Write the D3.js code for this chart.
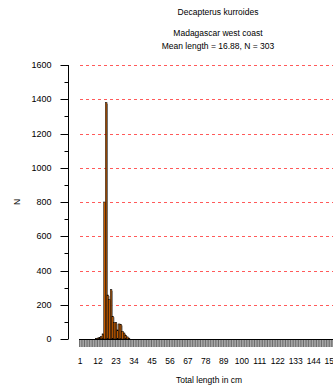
<!DOCTYPE html>
<html>
<head>
<meta charset="utf-8">
<script src="https://cdn.jsdelivr.net/npm/d3@7/dist/d3.min.js"></script>
<style>
  html, body { margin: 0; padding: 0; background: #fff; }
  svg { display: block; font-family: "Liberation Sans", Arial, sans-serif; }
</style>
</head>
<body>
<svg id="chart" width="333" height="390"></svg>
<script>
// Length-frequency data: total length (cm) and count N
const lengths = [11, 12, 13, 14, 15, 16, 17, 18, 19, 20, 21, 22, 23, 24, 25, 26, 27, 28, 29, 30, 31];
const counts  = [3, 6, 10, 14, 30, 800, 1380, 257, 230, 288, 133, 95, 95, 53, 88, 85, 45, 35, 22, 12, 5];
const yTicks = [0, 200, 400, 600, 800, 1000, 1200, 1400, 1600];
const xTickLabels = [1, 12, 23, 34, 45, 56, 67, 78, 89, 100, 111, 122, 133, 144, 155];
const titleLines = ["Decapterus kurroides", "Madagascar west coast", "Mean length = 16.88, N = 303"];

const svg = d3.select("#chart");

const x = d3.scaleLinear().domain([1, 155]).range([80, 331.7]);
const y = d3.scaleLinear().domain([0, 1600]).range([339, 65]);
const binW = x(2) - x(1);

// Titles
svg.append("text").attr("x", 218).attr("y", 15).attr("text-anchor", "middle")
  .attr("font-size", 8.5).attr("fill", "#000").text(titleLines[0]);
svg.append("text").attr("x", 218).attr("y", 36).attr("text-anchor", "middle")
  .attr("font-size", 8.5).attr("fill", "#000").text(titleLines[1]);
svg.append("text").attr("x", 218).attr("y", 49).attr("text-anchor", "middle")
  .attr("font-size", 8.5).attr("fill", "#000").text(titleLines[2]);

// Dashed horizontal grid
svg.append("g").selectAll("line")
  .data(yTicks.filter(d => d > 0))
  .join("line")
  .attr("x1", 80).attr("x2", 333)
  .attr("y1", d => Math.round(y(d)) + 0.5).attr("y2", d => Math.round(y(d)) + 0.5)
  .attr("stroke", "#ff5a5a").attr("stroke-width", 1)
  .attr("stroke-dasharray", "3,3");

// Striped bin band beneath the baseline
const bins = d3.range(1, 160);
const band = svg.append("g");
band.selectAll("rect")
  .data(bins)
  .join("rect")
  .attr("x", d => x(d - 0.5)).attr("y", 339.5)
  .attr("width", binW).attr("height", 7.5)
  .attr("fill", "#c4c4c4");
band.selectAll("line")
  .data(bins)
  .join("line")
  .attr("x1", d => x(d - 0.5) + 0.4).attr("x2", d => x(d - 0.5) + 0.4)
  .attr("y1", 339.5).attr("y2", 347)
  .attr("stroke", "#505050").attr("stroke-width", 0.8);

// Bars
const data = lengths.map((l, i) => ({ l, n: counts[i] }));
const bars = svg.append("g");
// shadow on right side
bars.selectAll("rect.shadow")
  .data(data)
  .join("rect")
  .attr("class", "shadow")
  .attr("x", d => x(d.l + 0.5))
  .attr("y", d => y(d.n) + 1)
  .attr("width", 1)
  .attr("height", d => Math.max(0, y(0) - y(d.n) - 1))
  .attr("fill", "#8c8c8c");
bars.selectAll("rect.bar")
  .data(data)
  .join("rect")
  .attr("class", "bar")
  .attr("x", d => x(d.l - 0.5))
  .attr("y", d => y(d.n))
  .attr("width", binW)
  .attr("height", d => y(0) - y(d.n))
  .attr("fill", "#c65d00")
  .attr("stroke", "#000")
  .attr("stroke-width", 0.5);

// Baseline
svg.append("line").attr("x1", 79).attr("x2", 333)
  .attr("y1", 339.5).attr("y2", 339.5)
  .attr("stroke", "#000").attr("stroke-width", 1);

// Y axis
const yAxis = svg.append("g").attr("transform", "translate(68.5,0)");
yAxis.append("line").attr("x1", 0).attr("x2", 0)
  .attr("y1", y(1600)).attr("y2", y(0)).attr("stroke", "#000");
yAxis.selectAll("line.major")
  .data(yTicks)
  .join("line").attr("class", "major")
  .attr("x1", -8).attr("x2", 0)
  .attr("y1", d => Math.round(y(d)) + 0.5).attr("y2", d => Math.round(y(d)) + 0.5)
  .attr("stroke", "#000");
yAxis.selectAll("line.minor")
  .data(d3.range(100, 1600, 200))
  .join("line").attr("class", "minor")
  .attr("x1", -4).attr("x2", 0)
  .attr("y1", d => Math.round(y(d)) + 0.5).attr("y2", d => Math.round(y(d)) + 0.5)
  .attr("stroke", "#000");
yAxis.selectAll("text")
  .data(yTicks)
  .join("text")
  .attr("x", -17).attr("y", d => y(d) + 3.2)
  .attr("text-anchor", "end").attr("font-size", 9).attr("fill", "#000")
  .text(d => d);

// Y axis title
svg.append("text")
  .attr("transform", `translate(20,${y(800)}) rotate(-90)`)
  .attr("text-anchor", "middle").attr("font-size", 8.5).attr("fill", "#000")
  .text("N");

// X tick labels (the last one runs off the right edge of the plot)
svg.append("g").selectAll("text")
  .data(xTickLabels)
  .join("text")
  .attr("x", d => x(d)).attr("y", 364)
  .attr("text-anchor", "middle").attr("font-size", 8.5).attr("fill", "#000")
  .text(d => d);

// X axis title
svg.append("text").attr("x", 209).attr("y", 383)
  .attr("text-anchor", "middle").attr("font-size", 8.5).attr("fill", "#000")
  .text("Total length in cm");
</script>
</body>
</html>
